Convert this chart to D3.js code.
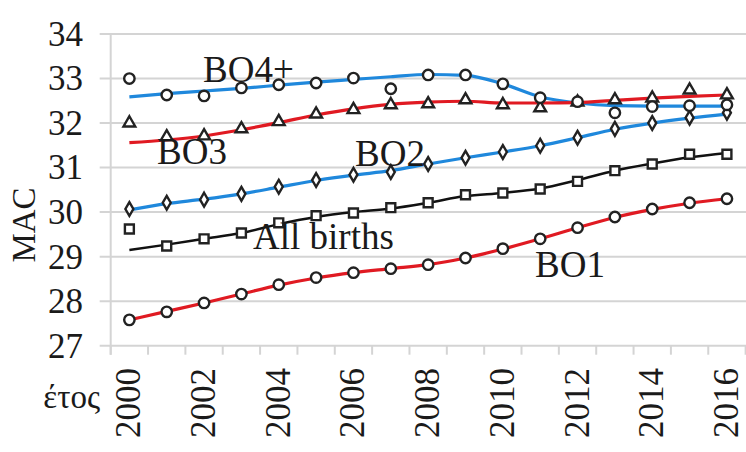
<!DOCTYPE html>
<html>
<head>
<meta charset="utf-8">
<script src="https://cdn.jsdelivr.net/npm/d3@7/dist/d3.min.js"></script>
<style>
  html, body { margin: 0; padding: 0; background: #fff; }
  svg text { font-family: "Liberation Serif", "Times New Roman", serif; fill: #1a1a1a; }
</style>
</head>
<body>
<svg id="chart" width="746" height="452"></svg>
<script>
// ---- data ----
const years = [2000, 2001, 2002, 2003, 2004, 2005, 2006, 2007, 2008, 2009, 2010, 2011, 2012, 2013, 2014, 2015, 2016];
const yearTickLabels = ["2000", "2002", "2004", "2006", "2008", "2010", "2012", "2014", "2016"];
const yTicks = [27, 28, 29, 30, 31, 32, 33, 34];

// observed values (markers)
const bo1 = [27.58, 27.76, 27.96, 28.16, 28.37, 28.53, 28.64, 28.73, 28.82, 28.97, 29.18, 29.40, 29.65, 29.89, 30.07, 30.21, 30.30];
const allBirths = [29.62, 29.24, 29.40, 29.53, 29.76, 29.92, 29.98, 30.10, 30.21, 30.39, 30.43, 30.52, 30.69, 30.93, 31.08, 31.30, 31.30];
const bo2 = [30.07, 30.21, 30.28, 30.41, 30.57, 30.72, 30.84, 30.90, 31.08, 31.22, 31.35, 31.49, 31.67, 31.87, 32.00, 32.12, 32.23];
const bo3 = [32.00, 31.69, 31.71, 31.87, 32.03, 32.20, 32.30, 32.41, 32.43, 32.52, 32.41, 32.34, 32.47, 32.52, 32.56, 32.74, 32.63];
const bo4 = [33.00, 32.63, 32.61, 32.79, 32.86, 32.90, 33.01, 32.77, 33.08, 33.08, 32.88, 32.57, 32.48, 32.23, 32.37, 32.39, 32.41];

// smoothed trend values (lines)
const bo1Trend = [27.58, 27.77, 27.96, 28.16, 28.36, 28.52, 28.64, 28.73, 28.82, 28.97, 29.17, 29.40, 29.65, 29.88, 30.06, 30.20, 30.30];
const allBirthsTrend = [29.15, 29.27, 29.40, 29.53, 29.73, 29.89, 30.00, 30.08, 30.21, 30.36, 30.43, 30.53, 30.72, 30.93, 31.09, 31.23, 31.33];
const bo2Trend = [30.05, 30.19, 30.29, 30.41, 30.56, 30.71, 30.83, 30.93, 31.08, 31.22, 31.35, 31.49, 31.67, 31.86, 32.00, 32.11, 32.20];
const bo3Trend = [31.56, 31.62, 31.71, 31.85, 32.01, 32.18, 32.32, 32.42, 32.47, 32.49, 32.45, 32.45, 32.46, 32.51, 32.56, 32.60, 32.63];
const bo4Trend = [32.59, 32.66, 32.72, 32.78, 32.85, 32.92, 32.98, 33.04, 33.09, 33.07, 32.88, 32.59, 32.45, 32.39, 32.38, 32.38, 32.38];

const seriesNames = ["BO1", "All births", "BO2", "BO3", "BO4+"];

// ---- layout ----
const svg = d3.select("#chart");
const plotLeft = 110.7, plotRight = 745.6, plotTop = 34, plotBottom = 345.7;

const x = d3.scaleBand().domain(years).range([plotLeft, plotRight]).padding(0);
const y = d3.scaleLinear().domain([27, 34]).range([plotBottom, plotTop]);
const cx = d => x(d) + x.bandwidth() / 2;

const GRID = "#d4d4d4";
const BLUE = "#1f88dc";
const RED = "#e01a22";
const MARK = "#222";

// gridlines
svg.append("g").selectAll("line").data(yTicks).join("line")
  .attr("x1", plotLeft - 11).attr("x2", 746)
  .attr("y1", d => y(d)).attr("y2", d => y(d))
  .attr("stroke", GRID).attr("stroke-width", 2);

// y axis line
svg.append("line")
  .attr("x1", plotLeft).attr("x2", plotLeft)
  .attr("y1", plotTop).attr("y2", plotBottom + 9)
  .attr("stroke", GRID).attr("stroke-width", 2);

// x ticks between categories
const tickPos = years.map(d => x(d)).concat([x(years[years.length - 1]) + x.bandwidth()]);
svg.append("g").selectAll("line").data(tickPos).join("line")
  .attr("x1", d => d).attr("x2", d => d)
  .attr("y1", plotBottom).attr("y2", plotBottom + 9)
  .attr("stroke", GRID).attr("stroke-width", 2);

// y tick labels
svg.append("g").selectAll("text").data(yTicks).join("text")
  .attr("x", 83).attr("y", d => y(d))
  .attr("dy", "0.34em")
  .attr("text-anchor", "end")
  .attr("font-size", 35)
  .text(d => d);

// x tick labels (rotated)
svg.append("g").selectAll("text").data(yearTickLabels).join("text")
  .attr("transform", d => `translate(${cx(+d) + 11},368) rotate(-90)`)
  .attr("text-anchor", "end")
  .attr("font-size", 35)
  .text(d => d);

// axis titles
svg.append("text")
  .attr("transform", "translate(35,225) rotate(-90)")
  .attr("text-anchor", "middle")
  .attr("font-size", 33)
  .text("MAC");
svg.append("text")
  .attr("x", 100).attr("y", 408)
  .attr("text-anchor", "end")
  .attr("font-size", 33)
  .text("έτος");

// trend lines
const line = d3.line().x((d, i) => cx(years[i])).y(d => y(d)).curve(d3.curveMonotoneX);
const trends = [
  { v: bo4Trend, c: BLUE },
  { v: bo3Trend, c: RED },
  { v: bo2Trend, c: BLUE },
  { v: allBirthsTrend, c: "#111" },
  { v: bo1Trend, c: RED }
];
svg.append("g").selectAll("path").data(trends).join("path")
  .attr("d", d => line(d.v))
  .attr("fill", "none")
  .attr("stroke", d => d.c)
  .attr("stroke-width", d => d.c === "#111" ? 2.5 : 3.2);

// markers
const sym = (type, size) => d3.symbol().type(type).size(size)();
const markerSets = [
  { v: bo1, t: d3.symbolCircle, s: 85 },
  { v: allBirths, t: d3.symbolSquare, s: 80 },
  { v: bo2, t: d3.symbolDiamond, s: 55 },
  { v: bo3, t: d3.symbolTriangle, s: 60 },
  { v: bo4, t: d3.symbolCircle, s: 85 }
];
markerSets.forEach(ms => {
  svg.append("g").selectAll("path").data(ms.v).join("path")
    .attr("transform", (d, i) => `translate(${cx(years[i])},${y(d)})`)
    .attr("d", sym(ms.t, ms.s))
    .attr("fill", "#fff")
    .attr("stroke", MARK)
    .attr("stroke-width", 2.4);
});

// series labels
const labelPos = [
  { name: seriesNames[4], x: 203, y: 82 },
  { name: seriesNames[3], x: 157, y: 164 },
  { name: seriesNames[2], x: 355, y: 166 },
  { name: seriesNames[1], x: 253, y: 249 },
  { name: seriesNames[0], x: 535, y: 277 }
];
svg.append("g").selectAll("text").data(labelPos).join("text")
  .attr("x", d => d.x).attr("y", d => d.y)
  .attr("font-size", 37)
  .text(d => d.name);
</script>
</body>
</html>
